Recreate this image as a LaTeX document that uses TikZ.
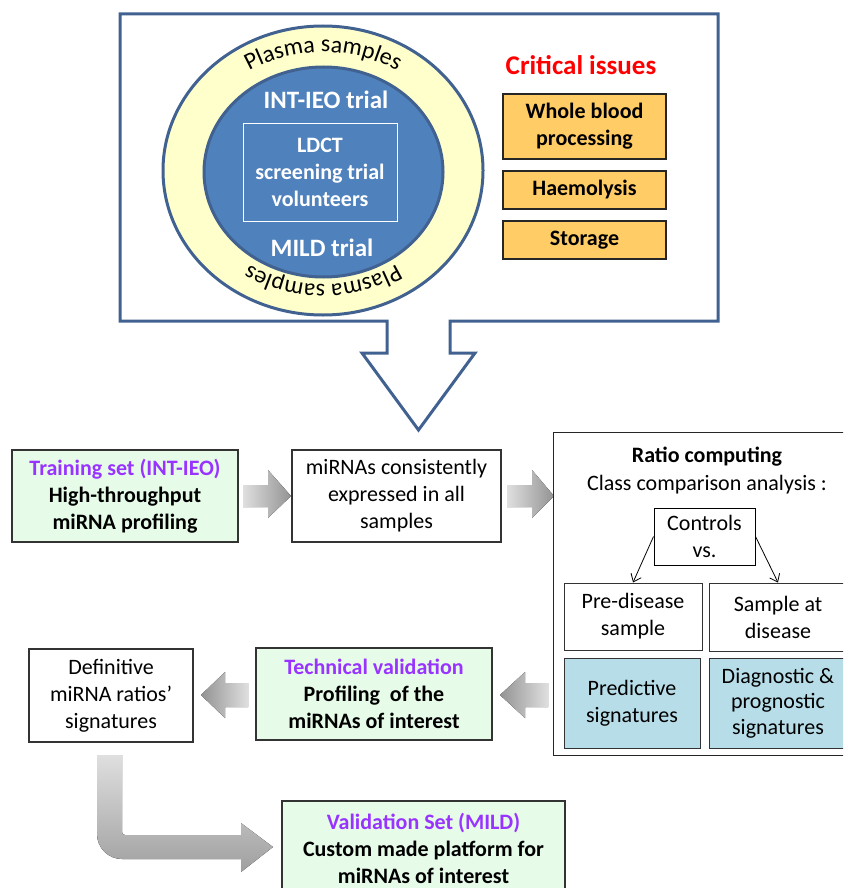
\documentclass[tikz,border=0pt]{standalone}
\usepackage{fontspec}
\setmainfont{Carlito}
\usetikzlibrary{shapes.geometric,arrows.meta,decorations.text}

\definecolor{frameblue}{RGB}{65,98,144}
\definecolor{coreblue}{RGB}{79,129,189}
\definecolor{ringyellow}{RGB}{255,255,204}
\definecolor{issueorange}{RGB}{255,204,102}
\definecolor{setgreen}{RGB}{230,252,233}
\definecolor{setpurple}{RGB}{153,51,255}
\definecolor{sigblue}{RGB}{183,221,232}
\definecolor{critred}{RGB}{255,0,0}

\newcommand{\bodyfont}{\fontsize{22}{27}\selectfont}

\begin{document}
\begin{tikzpicture}[x=1pt,y=-1pt,
    box/.style={draw=black!80, line width=1.2pt, align=center, inner sep=0pt, font=\bodyfont},
    greenbox/.style={box, fill=setgreen, font=\bodyfont\bfseries},
    sigbox/.style={box, fill=sigblue},
    issue/.style={box, draw=black!85, fill=issueorange, font=\bodyfont\bfseries},
    corelabel/.style={text=white, align=center, inner sep=0pt, font=\bodyfont\bfseries},
    blockright/.style={left color=gray!25, right color=gray!85},
    blockleft/.style={left color=gray!85, right color=gray!25},
    >={Straight Barb[length=7pt,width=11pt]}]
  \useasboundingbox (0,0) rectangle (843,888);
  \clip (0,0) rectangle (843,888);

  % frame with the hollow arrow
  \draw[frameblue, line width=3pt, line join=miter] (387,321) -- (120,321) -- (120,14) -- (718,14)
    -- (718,321) -- (450,321) -- (450,353) -- (475,353) -- (418.5,430) -- (362,353) -- (387,353) -- cycle;

  \node[ellipse, draw=frameblue, line width=3pt, fill=ringyellow,
        minimum width=320pt, minimum height=289pt] (ring) at (323,170.5) {};
  \node[ellipse, draw=frameblue, line width=3pt, fill=coreblue,
        minimum width=239pt, minimum height=210pt] (core) at (323.5,172) {};
  \path[decorate, decoration={text along path, text align=center,
        text={|\fontsize{24}{28}\selectfont|Plasma samples}}]
    (204.5,112) arc[start angle=210, end angle=330, x radius=137, y radius=120];
  \path[decorate, decoration={text along path, text align=center,
        text={|\fontsize{24}{28}\selectfont|Plasma samples}}]
    (435.6,227.5) arc[start angle=30, end angle=150, x radius=130, y radius=114];

  \node[corelabel, font=\fontsize{25}{30}\selectfont\bfseries] (intieo) at (326,100) {INT-IEO trial};
  \node[corelabel, draw=white, line width=0.8pt, minimum width=154pt, minimum height=98pt]
    (ldct) at (320,172) {LDCT\\screening trial\\volunteers};
  \node[corelabel, font=\fontsize{25}{30}\selectfont\bfseries] (mild) at (322,248) {MILD trial};

  \node[text=critred, font=\fontsize{27}{32}\selectfont\bfseries] (crit) at (581,65) {Critical issues};
  \node[issue, minimum width=163pt, minimum height=65pt] (whole) at (584.5,126.5) {Whole blood\\processing};
  \node[issue, minimum width=163pt, minimum height=38pt] (haem) at (584.5,190) {Haemolysis};
  \node[issue, minimum width=163pt, minimum height=38pt] (stor) at (584.5,240) {Storage};

  % discovery row
  \node[greenbox, minimum width=226pt, minimum height=92pt] (train) at (125,496)
    {\textcolor{setpurple}{Training set (INT-IEO)}\\High-throughput\\miRNA profiling};
  \node[box, minimum width=209pt, minimum height=92pt] (consist) at (396.5,496)
    {miRNAs consistently\\expressed in all\\samples};
  \fill[blockright] (243,485) -- (268,485) -- (268,470) -- (291,496) -- (268,518) -- (268,507) -- (243,507) -- cycle;
  \fill[blockright] (507,485) -- (532,485) -- (532,470) -- (554,496) -- (532,518) -- (532,507) -- (507,507) -- cycle;

  % ratio computing
  \node[box, draw=black!85, line width=1pt, minimum width=307pt, minimum height=323pt] (ratio) at (706.5,593.5) {};
  \node[font=\bodyfont\bfseries] (ratiotitle) at (707,457) {Ratio computing};
  \node[font=\bodyfont] (classcomp) at (707,485) {Class comparison analysis :};
  \node[box, draw=black, line width=1pt, minimum width=101pt, minimum height=57pt] (controls) at (704.5,536.5) {Controls\\vs.};
  \node[box, line width=1pt, minimum width=138pt, minimum height=67pt] (pre) at (633,616.5) {Pre-disease\\sample};
  \node[box, line width=1pt, minimum width=138pt, minimum height=68pt] (atdis) at (778,617) {Sample at\\disease};
  \node[sigbox, line width=1pt, minimum width=136pt, minimum height=90pt] (predict) at (632,703) {Predictive\\signatures};
  \node[sigbox, line width=1pt, minimum width=138pt, minimum height=90pt, font=\fontsize{22}{25.5}\selectfont]
    (diag) at (778,703) {Diagnostic \&\\prognostic\\signatures};
  \draw[->, line width=0.8pt] (controls.west) -- (pre.north);
  \draw[->, line width=0.8pt] (controls.east) -- (atdis.north);

  % validation row
  \fill[blockleft] (548,683) -- (525,683) -- (525,672) -- (500,695) -- (525,718) -- (525,707) -- (548,707) -- cycle;
  \node[greenbox, minimum width=236pt, minimum height=92pt] (tech) at (374,694)
    {\textcolor{setpurple}{Technical validation}\\Profiling\ \ of the\\miRNAs of interest};
  \fill[blockleft] (248,683) -- (225,683) -- (225,672) -- (201,695) -- (225,718) -- (225,707) -- (248,707) -- cycle;
  \node[box, minimum width=164pt, minimum height=93pt] (defin) at (111,695.5)
    {Definitive\\miRNA ratios’\\signatures};

  \fill[top color=gray!25, bottom color=gray!75] (97,755) -- (97,834) arc[start angle=180, end angle=90, radius=25]
    -- (241,859) -- (241,872) -- (273,847) -- (241,823) -- (241,835) -- (125,835)
    arc[start angle=90, end angle=180, radius=3] -- (122,755) -- cycle;
  \node[greenbox, minimum width=283pt, minimum height=94pt] (valid) at (423.5,848)
    {\textcolor{setpurple}{Validation Set (MILD)}\\Custom made platform for\\miRNAs of interest};
\end{tikzpicture}
\end{document}
